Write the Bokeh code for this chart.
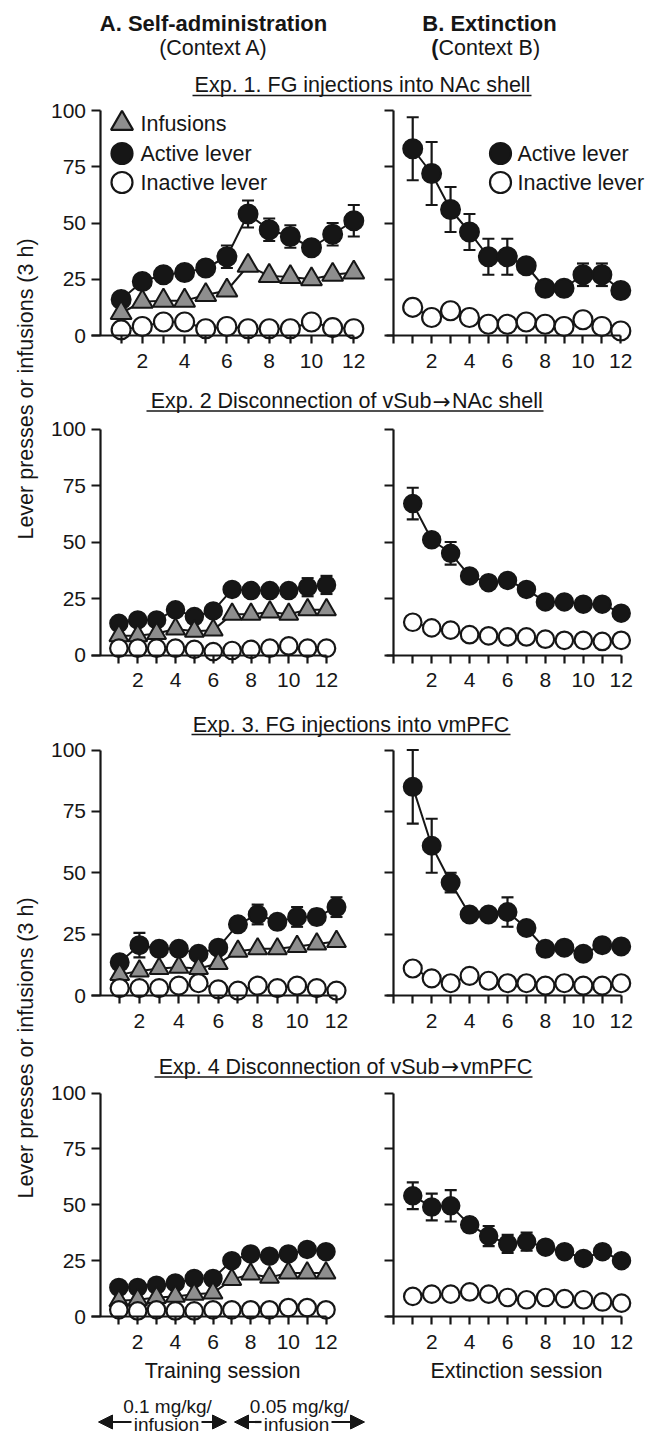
import math
from bokeh.plotting import figure
from bokeh.layouts import column, row
from bokeh.models import (Range1d, Label, Whisker, TeeHead, Arrow, NormalHead,
                          ColumnDataSource, FixedTicker, LinearAxis)
from bokeh.embed import file_html
from bokeh.resources import INLINE

# ---------------- data ----------------
sessions = list(range(1, 13))
x_tick_text = ["", "2", "", "4", "", "6", "", "8", "", "10", "", "12"]
y_ticks = [0, 25, 50, 75, 100]
y_tick_text = ["0", "25", "50", "75", "100"]

exp1_sa_active = [16, 24, 27, 28, 30, 35, 54, 47, 44, 39, 45, 51]
exp1_sa_active_sem = [2, 2, 2, 2, 3, 5, 6, 5, 5, 3, 5, 7]
exp1_sa_infusions = [10, 15, 15.5, 15.5, 18, 20, 31, 26.5, 26, 25, 27, 28]
exp1_sa_inactive = [2.5, 4, 6, 6, 3, 4, 3, 3, 3, 6, 3.5, 3]
exp1_ext_active = [83, 72, 56, 46, 35, 35, 31, 21, 21, 27, 27, 20]
exp1_ext_active_sem = [14, 14, 10, 8, 8, 8, 3, 2, 2, 5, 5, 2]
exp1_ext_inactive = [12.5, 8, 11, 8, 5, 5, 6, 5, 4, 7, 4, 2]

exp2_sa_active = [14, 15.5, 15.5, 20, 17, 19.5, 29, 28.5, 28.5, 28.5, 30, 31]
exp2_sa_active_sem = [1.5, 1.5, 1.5, 2, 2, 2, 2, 2, 2, 2, 4, 4]
exp2_sa_infusions = [8.5, 8.5, 9.5, 11.5, 10.5, 11, 18, 18, 19, 18, 20, 20]
exp2_sa_inactive = [3, 3, 3, 3, 2.5, 1.5, 2, 2.5, 3, 4, 3, 3]
exp2_ext_active = [67, 51, 45, 35, 32, 33, 29, 23.5, 23.5, 22.5, 22.5, 18.5]
exp2_ext_active_sem = [7, 2, 5, 1.5, 1.5, 1.5, 1.5, 1.5, 1.5, 1.5, 1.5, 1.5]
exp2_ext_inactive = [14.5, 12, 11, 9, 8.5, 8, 8, 7, 6.5, 6.5, 6, 6.5]

exp3_sa_active = [13.5, 20.5, 19, 19, 17, 19.5, 29, 33, 30, 32, 32, 36]
exp3_sa_active_sem = [2, 5, 2, 2, 2, 2, 2, 4, 2, 4, 3, 4]
exp3_sa_infusions = [8.5, 10, 11, 11.5, 11, 13, 18, 19, 19, 20, 21, 22]
exp3_sa_inactive = [3, 3, 3, 4, 5, 2.5, 2, 4, 3, 4, 3, 2]
exp3_ext_active = [85, 61, 46, 33, 33, 34, 27.5, 19, 19.5, 17, 20.5, 20]
exp3_ext_active_sem = [15, 11, 4, 2, 2, 6, 2, 2, 2, 2, 2, 2]
exp3_ext_inactive = [11, 7, 5, 8, 6, 5, 5, 4, 5, 4, 4, 5]

exp4_sa_active = [13, 13, 14, 15, 17, 17, 25, 28, 27, 28, 30, 29]
exp4_sa_active_sem = [1.5, 1.5, 1.5, 1.5, 1.5, 1.5, 2, 2, 2, 2, 2, 2]
exp4_sa_infusions = [7, 7.5, 8.5, 9, 10, 10.5, 16.5, 19, 17.5, 19.5, 19.5, 19.5]
exp4_sa_inactive = [3, 2.5, 3, 2.5, 2.5, 3, 3, 3, 3, 4, 4, 3]
exp4_ext_active = [54, 49, 49.5, 41, 36, 32.5, 33.5, 31, 29, 26, 29, 25]
exp4_ext_active_sem = [6, 6, 7, 3, 4.5, 4, 4, 2.5, 3, 2.5, 3, 2]
exp4_ext_inactive = [9, 10, 10, 11, 10, 8.5, 7.5, 8.5, 8, 7.5, 6.5, 6]

legend_labels = ["Infusions", "Active lever", "Inactive lever"]
exp_titles = ["Exp. 1. FG injections into NAc shell",
              ("Exp. 2 Disconnection of vSub", "\u2192", "NAc shell"),
              "Exp. 3. FG injections into vmPFC",
              ("Exp. 4 Disconnection of vSub", "\u2192", "vmPFC")]
y_axis_label = "Lever presses or infusions (3 h)"
x_axis_labels = ["Training session", "Extinction session"]
dose_labels = ["0.1 mg/kg/", "0.05 mg/kg/"]
dose_unit = "infusion"

SA = [
    (exp1_sa_active, exp1_sa_active_sem, exp1_sa_infusions, exp1_sa_inactive),
    (exp2_sa_active, exp2_sa_active_sem, exp2_sa_infusions, exp2_sa_inactive),
    (exp3_sa_active, exp3_sa_active_sem, exp3_sa_infusions, exp3_sa_inactive),
    (exp4_sa_active, exp4_sa_active_sem, exp4_sa_infusions, exp4_sa_inactive),
]
EXT = [
    (exp1_ext_active, exp1_ext_active_sem, exp1_ext_inactive),
    (exp2_ext_active, exp2_ext_active_sem, exp2_ext_inactive),
    (exp3_ext_active, exp3_ext_active_sem, exp3_ext_inactive),
    (exp4_ext_active, exp4_ext_active_sem, exp4_ext_inactive),
]

# ---------------- style / layout (page px) ----------------
FONT = "Liberation Sans"
ARROW_FONT = "DejaVu Sans"
INK = "#161616"
GRAY = "#8e8e8e"
FS = "21.5px"
FS_TICK = "21px"
FS_DOSE = "19px"

PAGE_W, PAGE_H = 656, 1437
YLAB_W = 46
A_X0, A_W = 46, 332
B_X0, B_W = 378, 278
A_ZERO, B_ZERO = 99.5, 393.3
AXIS_EXT = {"A": 8.5, "B": 7.0}

PANELS = [
    dict(top=100, bot=385, y0=335.0, y100=110.0, a_x12=353.3, b_x12=620.3, circ=19, tri=21),
    dict(top=418, bot=705, y0=654.5, y100=428.5, a_x12=326.0, b_x12=620.7, circ=17.5, tri=19),
    dict(top=738, bot=1048, y0=995.0, y100=749.5, a_x12=336.0, b_x12=620.7, circ=18, tri=19),
    dict(top=1082, bot=PAGE_H, y0=1316.0, y100=1092.5, a_x12=325.5, b_x12=621.0, circ=17.5, tri=19),
]
# (top, bottom, center_x or (left_end, arrow_center, right_start), center_y, underline_y, ux0, ux1)
TITLE_STRIPS = [
    (385, 418, (431.0, 441.0, 451.5), 400.5, 410.5, 146, 543),
    (705, 738, 350.5, 724.0, 734.0, 191, 510),
    (1048, 1082, (439.0, 449.5, 460.0), 1066.0, 1076.5, 154, 532),
]
DOSE_ARROWS = [  # (left tip, right tip, label center, unit center, unit half gap)
    (98.0, 226.0, 167.0, 166.0, 35.0),
    (234.0, 364.0, 299.0, 296.0, 35.0),
]
DOSE_Y = (1406.0, 1421.5, 1424.0)   # label centre, arrow, unit centre


def style_axis(ax, size_px):
    ax.axis_line_width = 2.2
    ax.axis_line_color = INK
    ax.major_tick_line_width = 2.2
    ax.major_tick_line_color = INK
    ax.major_tick_in = 0
    ax.major_tick_out = size_px
    ax.minor_tick_line_color = None
    ax.major_label_text_font = FONT
    ax.major_label_text_font_size = FS_TICK
    ax.major_label_text_color = INK


def make_panel(side, P, series, legend=False, footer=False):
    top, bot = P["top"], P["bot"]
    H = bot - top
    if side == "A":
        cx0, W, xz, x12 = A_X0, A_W, A_ZERO, P["a_x12"]
    else:
        cx0, W, xz, x12 = B_X0, B_W, B_ZERO, P["b_x12"]
    sp = (x12 - xz) / 12.0
    ys = (P["y0"] - P["y100"]) / 100.0
    X = lambda px: (px - xz) / sp
    Y = lambda py: (P["y0"] - py) / ys

    # the frame covers the whole canvas; axes are fixed at 0
    p = figure(width=W, height=H, x_range=Range1d(X(cx0), X(cx0 + W)),
               y_range=Range1d(Y(bot), Y(top)), title=None,
               x_axis_type=None, y_axis_type=None, toolbar_location=None, output_backend="svg",
               min_border=0)
    p.outline_line_color = None

    xt = ([0] if side == "B" else []) + sessions
    xa = LinearAxis(fixed_location=0, bounds=(X(xz - AXIS_EXT[side]), 12),
                    ticker=FixedTicker(ticks=xt, minor_ticks=[]))
    style_axis(xa, 8)
    xa.major_label_standoff = 10
    ov = {s: t for s, t in zip(sessions, x_tick_text)}
    if side == "B":
        ov[0] = ""
    xa.major_label_overrides = ov
    p.add_layout(xa, "below")

    ya = LinearAxis(fixed_location=0, bounds=(0, 100), ticker=FixedTicker(ticks=y_ticks, minor_ticks=[]))
    style_axis(ya, 9)
    ya.major_label_standoff = 5
    if side == "A":
        ya.major_label_overrides = {t: s for t, s in zip(y_ticks, y_tick_text)}
    else:
        ya.major_label_overrides = {t: "" for t in y_ticks}
    p.add_layout(ya, "left")

    if side == "A":
        active, sem, infusions, inactive = series
    else:
        active, sem, inactive = series
        infusions = None

    src = ColumnDataSource(dict(x=sessions, active=active,
                                upper=[a + e for a, e in zip(active, sem)],
                                lower=[a - e for a, e in zip(active, sem)],
                                inactive=inactive,
                                infusions=infusions if infusions is not None else [0] * 12))

    p.line("x", "inactive", source=src, line_width=2, line_color=INK)
    if infusions is not None:
        p.line("x", "infusions", source=src, line_width=2, line_color=INK)
    p.line("x", "active", source=src, line_width=2, line_color=INK)

    wh = Whisker(base="x", upper="upper", lower="lower", source=src, line_width=2.2, line_color=INK,
                 upper_head=TeeHead(size=12, line_width=2.2, line_color=INK),
                 lower_head=TeeHead(size=12, line_width=2.2, line_color=INK), level="underlay")
    p.add_layout(wh)

    p.scatter("x", "active", source=src, marker="circle", size=P["circ"],
              fill_color=INK, line_color=INK, line_width=2)
    if infusions is not None:
        p.scatter("x", "infusions", source=src, marker="triangle", size=P["tri"],
                  fill_color=GRAY, line_color=INK, line_width=2)
    p.scatter("x", "inactive", source=src, marker="circle", size=P["circ"],
              fill_color="white", line_color=INK, line_width=2.2)

    if legend:
        if side == "A":
            mx, tx = 121.5, 140.0
            rows = [(123.0, "triangle", GRAY, legend_labels[0]),
                    (153.0, "circle", INK, legend_labels[1]),
                    (182.0, "circle", "white", legend_labels[2])]
        else:
            mx, tx = 500.0, 517.0
            rows = [(153.0, "circle", INK, legend_labels[1]),
                    (182.0, "circle", "white", legend_labels[2])]
        for ry, mk, fc, lab_ in rows:
            p.scatter([X(mx)], [Y(ry)], marker=mk, size=22 if mk == "triangle" else 21,
                      fill_color=fc, line_color=INK, line_width=2.2)
            p.add_layout(Label(x=X(tx), y=Y(ry), text=lab_, text_font=FONT, text_font_size=FS,
                               text_color=INK, text_align="left", text_baseline="middle"))

    if footer:
        cx = 222.0 if side == "A" else 516.0
        p.add_layout(Label(x=X(cx), y=Y(1370.0), text=x_axis_labels[0 if side == "A" else 1],
                           text_font=FONT, text_font_size=FS, text_color=INK,
                           text_align="center", text_baseline="middle"))
        if side == "A":
            ly, ay_px, uy = DOSE_Y
            for (a0, a1, tcx, icx, gap), dl in zip(DOSE_ARROWS, dose_labels):
                p.add_layout(Label(x=X(tcx), y=Y(ly), text=dl, text_font=FONT,
                                   text_font_size=FS_DOSE, text_color=INK,
                                   text_align="center", text_baseline="middle"))
                ay = Y(ay_px)
                for xs, xe in ((icx - gap, a0), (icx + gap, a1)):
                    p.add_layout(Arrow(x_start=X(xs), y_start=ay, x_end=X(xe), y_end=ay,
                                       line_width=2.2, line_color=INK, start=None,
                                       end=NormalHead(size=14, fill_color=INK, line_color=INK)))
                p.add_layout(Label(x=X(icx), y=Y(uy), text=dose_unit, text_font=FONT,
                                   text_font_size=FS_DOSE, text_color=INK,
                                   text_align="center", text_baseline="middle"))
    return p


def text_fig(x0, y0, W, H):
    p = figure(width=W, height=H, x_range=Range1d(x0, x0 + W), y_range=Range1d(y0 + H, y0),
               title=None, x_axis_type=None, y_axis_type=None, toolbar_location=None,
               output_backend="svg", min_border=0)
    p.outline_line_color = None
    return p


def lab(p, x, y, text, size=FS, bold=False, align="center", angle=0, font=FONT):
    p.add_layout(Label(x=x, y=y, text=text, text_font=font, text_font_size=size,
                       text_font_style="bold" if bold else "normal", text_color=INK,
                       text_align=align, text_baseline="middle", angle=angle))


def title_text(p, cx, cy, title):
    if isinstance(title, tuple):
        left, arrow, right = title
        lx, ax, rx = cx
        lab(p, lx, cy, left, align="right")
        lab(p, ax, cy, arrow, align="center", font=ARROW_FONT)
        lab(p, rx, cy, right, align="left")
    else:
        lab(p, cx, cy, title)


# ---------------- header (page coordinates) ----------------
top = text_fig(0, 0, PAGE_W, PANELS[0]["top"])
lab(top, 213, 22.5, "A. Self-administration", size="22px", bold=True)
lab(top, 213, 47, "(Context A)")
lab(top, 489, 22.5, "B. Extinction", size="22px", bold=True)
lab(top, 438, 47, "(", bold=True, align="right")
lab(top, 438, 47, "Context B)", align="left")
title_text(top, 362, 84, exp_titles[0])
top.segment(x0=[192], y0=[95], x1=[531], y1=[95], line_width=1.6, line_color=INK)

# ---------------- y label column ----------------
ylab = text_fig(0, PANELS[0]["top"], YLAB_W, PAGE_H - PANELS[0]["top"])
lab(ylab, 25, 388.5, y_axis_label, angle=math.pi / 2)
lab(ylab, 25, 1047.5, y_axis_label, angle=math.pi / 2)

# ---------------- panels ----------------
items = []
for i, P in enumerate(PANELS):
    if i > 0:
        t0, t1, cx, cy, uy, ux0, ux1 = TITLE_STRIPS[i - 1]
        tf = text_fig(A_X0, t0, A_W + B_W, t1 - t0)
        title_text(tf, cx, cy, exp_titles[i])
        tf.segment(x0=[ux0], y0=[uy], x1=[ux1], y1=[uy], line_width=1.6, line_color=INK)
        items.append(tf)
    pa = make_panel("A", P, SA[i], legend=(i == 0), footer=(i == 3))
    pb = make_panel("B", P, EXT[i], legend=(i == 0), footer=(i == 3))
    items.append(row(pa, pb))

layout = column(top, row(ylab, column(*items)))
open("out.html", "w").write(file_html(layout, INLINE))
